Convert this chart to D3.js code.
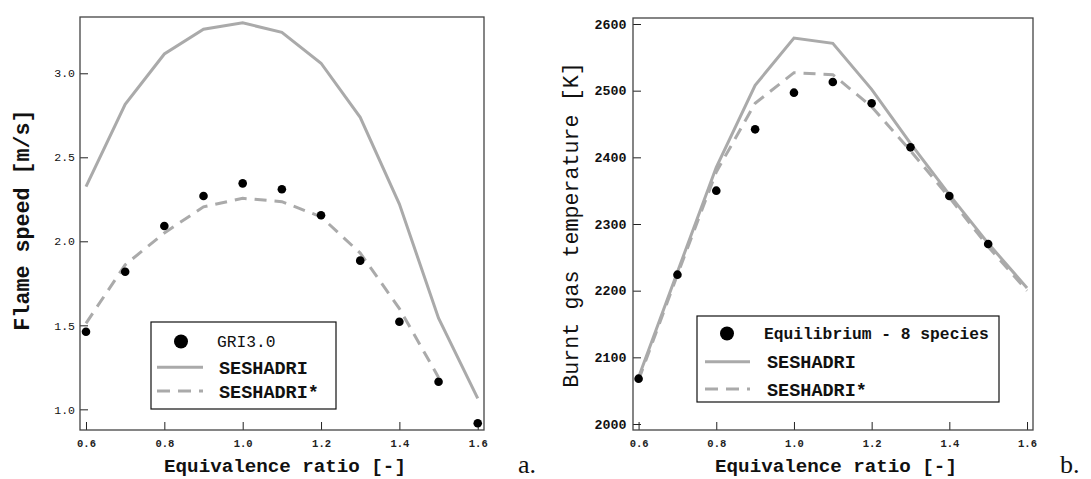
<!DOCTYPE html>
<html><head><meta charset="utf-8">
<script src="https://cdn.jsdelivr.net/npm/d3@7"></script>
<style>
html,body{margin:0;padding:0;background:#fff;}
svg{display:block;}
</style></head>
<body>
<svg id="chart" width="1091" height="479" font-family="Liberation Mono, Courier New, monospace"></svg>
<script>
// ---------- data ----------
const phi = [0.6, 0.7, 0.8, 0.9, 1.0, 1.1, 1.2, 1.3, 1.4, 1.5, 1.6];
const phiStarA = [0.6, 0.7, 0.8, 0.9, 1.0, 1.1, 1.2, 1.3, 1.4, 1.5];
const phiEq = [0.6, 0.7, 0.8, 0.9, 1.0, 1.1, 1.2, 1.3, 1.4, 1.5];

const speedGRI = [1.462, 1.819, 2.091, 2.27, 2.345, 2.31, 2.155, 1.885, 1.521, 1.164, 0.917];
const speedSeshadri = [2.325, 2.815, 3.115, 3.262, 3.30, 3.244, 3.06, 2.738, 2.222, 1.542, 1.065];
const speedSeshadriStar = [1.512, 1.86, 2.05, 2.205, 2.256, 2.236, 2.146, 1.93, 1.60, 1.19];

const tempEq = [2068, 2224, 2350, 2442, 2497, 2513, 2481, 2415, 2342, 2270];
const tempSeshadri = [2070, 2228, 2385, 2508, 2579, 2571, 2502, 2421, 2344, 2271, 2204];
const tempSeshadriStar = [2066, 2224, 2378, 2481, 2527, 2524, 2476, 2410, 2340, 2266, 2200];

const xTicks = [0.6, 0.8, 1.0, 1.2, 1.4, 1.6];
const speedTicks = [1.0, 1.5, 2.0, 2.5, 3.0];
const tempTicks = [2000, 2100, 2200, 2300, 2400, 2500, 2600];

const legendA = ["GRI3.0", "SESHADRI", "SESHADRI*"];
const legendB = ["Equilibrium - 8 species", "SESHADRI", "SESHADRI*"];

// ---------- drawing ----------
const svg = d3.select("#chart");
const LINE = "#aaaaaa", FRAME = "#444";
const MONO = "Liberation Mono, Courier New, monospace";

function panel(o) {
  const g = svg.append("g");
  const x = d3.scaleLinear().domain(o.xDom).range([o.left, o.right]);
  const y = d3.scaleLinear().domain(o.yDom).range([o.bottom, o.top]);

  // axes
  const xa = g.append("g").attr("transform", `translate(0,${o.bottom})`)
    .call(d3.axisBottom(x).tickValues(xTicks).tickFormat(d3.format(".1f")).tickSize(-8).tickPadding(10));
  xa.select(".domain").remove();
  xa.selectAll(".tick line").attr("stroke", "#222");
  xa.selectAll(".tick text").style("font-family", MONO).attr("font-weight", "bold")
    .style("font-size", "10.5px").attr("fill", "#222");

  const ya = g.append("g").attr("transform", `translate(${o.left},0)`)
    .call(d3.axisLeft(y).tickValues(o.yTicks).tickFormat(o.yFmt).tickSize(-8).tickPadding(o.yPad));
  ya.select(".domain").remove();
  ya.selectAll(".tick line").attr("stroke", "#222");
  ya.selectAll(".tick text").style("font-family", MONO).attr("font-weight", o.yTickWeight)
    .style("font-size", o.yTickSize + "px").attr("fill", "#111");

  // frame
  g.append("rect").attr("x", o.left).attr("y", o.top)
    .attr("width", o.right - o.left).attr("height", o.bottom - o.top)
    .attr("fill", "none").attr("stroke", FRAME).attr("stroke-width", 1.3);

  const line = d3.line().x(d => x(d[0])).y(d => y(d[1]));
  g.append("path").datum(d3.zip(o.solidX, o.solid)).attr("d", line)
    .attr("fill", "none").attr("stroke", LINE).attr("stroke-width", 3);
  g.append("path").datum(d3.zip(o.dashX, o.dash)).attr("d", line)
    .attr("fill", "none").attr("stroke", LINE).attr("stroke-width", 3).attr("stroke-dasharray", "12,8");
  g.selectAll("circle.pt").data(d3.zip(o.dotX, o.dots)).join("circle").attr("class", "pt")
    .attr("cx", d => x(d[0])).attr("cy", d => y(d[1])).attr("r", 4.3).attr("fill", "#000");

  // axis labels
  g.append("text").attr("x", (o.left + o.right) / 2 + 3).attr("y", 472)
    .attr("text-anchor", "middle").attr("font-weight", "bold").attr("font-size", 19.2)
    .attr("fill", "#111").text("Equivalence ratio [-]");
  g.append("text").attr("transform", `translate(${o.yLabelX},${o.yLabelY}) rotate(-90)`)
    .attr("text-anchor", "middle").attr("dominant-baseline", "central")
    .attr("font-weight", o.yLabelWeight).attr("font-size", 21.7)
    .attr("fill", "#111").text(o.yLabel);

  // legend
  const L = o.legend;
  g.append("rect").attr("x", L.x0).attr("y", L.y0).attr("width", L.x1 - L.x0).attr("height", L.y1 - L.y0)
    .attr("fill", "#fff").attr("stroke", "#111").attr("stroke-width", 1.2);
  g.append("circle").attr("cx", L.dotX).attr("cy", L.rows[0]).attr("r", 7).attr("fill", "#000");
  g.append("line").attr("x1", L.lx0).attr("x2", L.lx1).attr("y1", L.rows[1]).attr("y2", L.rows[1])
    .attr("stroke", LINE).attr("stroke-width", 3);
  g.append("line").attr("x1", L.lx0).attr("x2", L.lx1).attr("y1", L.rows[2]).attr("y2", L.rows[2])
    .attr("stroke", LINE).attr("stroke-width", 3).attr("stroke-dasharray", "13,8");
  g.append("text").attr("x", L.t0).attr("y", L.rows[0]).attr("dy", "0.36em")
    .attr("font-weight", L.firstWeight).attr("font-size", 16.3).attr("fill", "#111").text(o.labels[0]);
  [1, 2].forEach(i => {
    g.append("text").attr("x", L.t1).attr("y", L.rows[i]).attr("dy", "0.36em")
      .attr("font-weight", "bold").attr("font-size", 18.5).attr("fill", "#111").text(o.labels[i]);
  });

  // panel tag
  g.append("text").attr("x", o.tagX).attr("y", 473)
    .style("font-family", "Liberation Serif, DejaVu Serif, serif")
    .style("font-size", "26px").attr("fill", "#111").text(o.tag);
}

panel({
  left: 80, right: 484, top: 17, bottom: 430,
  xDom: [0.5847, 1.616], yDom: [0.877, 3.335],
  yTicks: speedTicks, yFmt: d3.format(".1f"), yPad: 5, yTickSize: 11.5, yTickWeight: "normal",
  solidX: phi, solid: speedSeshadri, dashX: phiStarA, dash: speedSeshadriStar, dotX: phi, dots: speedGRI,
  yLabel: "Flame speed [m/s]", yLabelX: 23, yLabelY: 220, yLabelWeight: "bold",
  labels: legendA,
  legend: {x0: 151, x1: 336, y0: 322, y1: 409, dotX: 181, lx0: 157, lx1: 203, rows: [341.5, 367.3, 391], t0: 217, t1: 219, firstWeight: "normal"},
  tag: "a.", tagX: 518
});

panel({
  left: 633, right: 1033, top: 18, bottom: 430,
  xDom: [0.5856, 1.6154], yDom: [1991, 2609],
  yTicks: tempTicks, yFmt: d3.format("d"), yPad: 6.5, yTickSize: 13.3, yTickWeight: "bold",
  solidX: phi, solid: tempSeshadri, dashX: phi, dash: tempSeshadriStar, dotX: phiEq, dots: tempEq,
  yLabel: "Burnt gas temperature [K]", yLabelX: 572, yLabelY: 225, yLabelWeight: "normal",
  labels: legendB,
  legend: {x0: 697, x1: 999, y0: 316, y1: 402, dotX: 727, lx0: 705, lx1: 750, rows: [333.5, 361.7, 389], t0: 764, t1: 767, firstWeight: "bold"},
  tag: "b.", tagX: 1060
});
</script>
</body></html>
